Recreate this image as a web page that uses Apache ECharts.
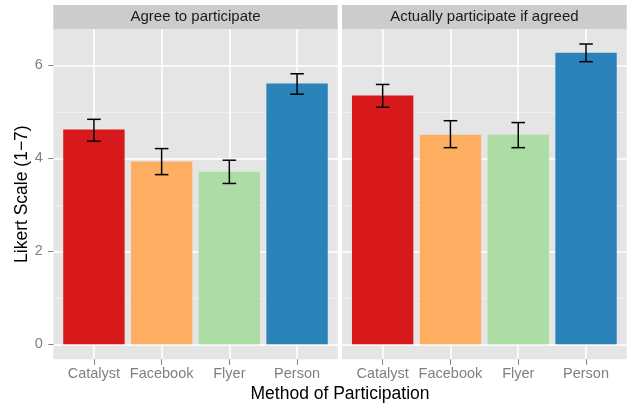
<!DOCTYPE html>
<html>
<head>
<meta charset="utf-8">
<script src="https://cdn.jsdelivr.net/npm/echarts@6/dist/echarts.min.js"></script>
<style>html,body{margin:0;padding:0;background:#fff}#c{width:631px;height:404px}</style>
</head>
<body>
<div id="c"></div>
<script>
const categories = ['Catalyst', 'Facebook', 'Flyer', 'Person'];
const panelTitles = ['Agree to participate', 'Actually participate if agreed'];
const agreeMean = [4.62, 3.93, 3.71, 5.61];
const agreeLow  = [4.37, 3.65, 3.46, 5.38];
const agreeHigh = [4.84, 4.21, 3.96, 5.82];
const actualMean = [5.35, 4.51, 4.51, 6.27];
const actualLow  = [5.10, 4.23, 4.23, 6.08];
const actualHigh = [5.59, 4.81, 4.77, 6.46];
const yTicks = [0, 2, 4, 6];
const yMinor = [1, 3, 5];
const colors = ['#d7191c', '#fdae61', '#abdda4', '#2b83ba'];

const FONT = 'Liberation Sans, Arial, Helvetica, sans-serif';
const Y_MIN = -0.323, Y_MAX = 6.783;
const panels = [
  {left: 53.3, width: 284.4},
  {left: 342, width: 284.7}
];
const panelTop = 29, panelHeight = 330.3;
const means = [agreeMean, actualMean], lows = [agreeLow, actualLow], highs = [agreeHigh, actualHigh];

const grid = [], xAxis = [], yAxis = [], series = [], title = [], graphic = [];
panels.forEach((p, i) => {
  grid.push({left: p.left, top: panelTop, width: p.width, height: panelHeight, show: true,
    backgroundColor: '#e5e5e5', borderWidth: 0});
  xAxis.push({type: 'value', gridIndex: i, min: -0.6, max: 3.6, position: 'bottom',
    axisLine: {show: false, onZero: false},
    axisTick: {show: true, customValues: [0, 1, 2, 3], length: 5.5, lineStyle: {color: '#7f7f7f', width: 1}},
    axisLabel: {show: true, customValues: [0, 1, 2, 3], formatter: v => categories[Math.round(v)],
      color: '#7f7f7f', fontSize: 14.5, fontFamily: FONT, margin: 7},
    splitLine: {show: true, lineStyle: {color: '#ffffff', width: 1.6}}
  });
  yAxis.push({type: 'value', gridIndex: i, min: Y_MIN, max: Y_MAX, position: 'left',
    axisLine: {show: false, onZero: false},
    axisTick: {show: i === 0, customValues: yTicks, length: 5, lineStyle: {color: '#7f7f7f', width: 1}},
    axisLabel: {show: i === 0, customValues: yTicks, color: '#7f7f7f', fontSize: 14.5, fontFamily: FONT, margin: 10.5},
    splitLine: {show: true, lineStyle: {color: '#ffffff', width: 1.6}},
    name: i === 0 ? 'Likert Scale (1\u22127)' : '', nameLocation: 'middle', nameRotate: 90, nameGap: 21,
    nameTextStyle: {color: '#000', fontSize: 17.5, fontFamily: FONT}
  });
  yAxis.push({type: 'value', gridIndex: i, min: Y_MIN, max: Y_MAX, position: 'left',
    axisLine: {show: false, onZero: false}, axisTick: {show: false, customValues: yMinor},
    axisLabel: {show: false}, splitLine: {show: true, lineStyle: {color: '#f2f2f2', width: 0.8}}
  });
  series.push({type: 'bar', xAxisIndex: i, yAxisIndex: i * 2, barWidth: 61.4, z: 3,
    data: means[i].map((v, k) => ({value: [k, v], itemStyle: {color: colors[k]}})),
    silent: true});
  series.push({type: 'custom', xAxisIndex: i, yAxisIndex: i * 2, z: 5, silent: true,
    data: categories.map((c, k) => [k, lows[i][k], highs[i][k]]),
    renderItem: (params, api) => {
      const x = api.value(0), lo = api.value(1), hi = api.value(2);
      const pLo = api.coord([x, lo]), pHi = api.coord([x, hi]);
      const a = api.coord([x - 0.1, hi]), b = api.coord([x + 0.1, hi]);
      const c = api.coord([x - 0.1, lo]), d = api.coord([x + 0.1, lo]);
      const st = {stroke: '#000', lineWidth: 1.5};
      return {type: 'group', children: [
        {type: 'line', shape: {x1: pLo[0], y1: pLo[1], x2: pHi[0], y2: pHi[1]}, style: st},
        {type: 'line', shape: {x1: a[0], y1: a[1], x2: b[0], y2: b[1]}, style: st},
        {type: 'line', shape: {x1: c[0], y1: c[1], x2: d[0], y2: d[1]}, style: st}
      ]};
    }
  });
  graphic.push({type: 'rect', shape: {x: p.left, y: 5, width: p.width, height: panelTop - 5},
    style: {fill: '#cccccc'}, z: -1, silent: true});
  title.push({text: panelTitles[i], left: p.left + p.width / 2, top: 9.5, textAlign: 'center', padding: 0,
    textStyle: {color: '#1a1a1a', fontSize: 15, fontWeight: 'normal', fontFamily: FONT}});
});
title.push({text: 'Method of Participation', left: 340, top: 385, textAlign: 'center', padding: 0,
  textStyle: {color: '#000', fontSize: 17.5, fontWeight: 'normal', fontFamily: FONT}});

const chart = echarts.init(document.getElementById('c'), null, {renderer: 'canvas'});
chart.setOption({animation: false, backgroundColor: '#fff', title, grid, xAxis, yAxis, series, graphic});
</script>
</body>
</html>
